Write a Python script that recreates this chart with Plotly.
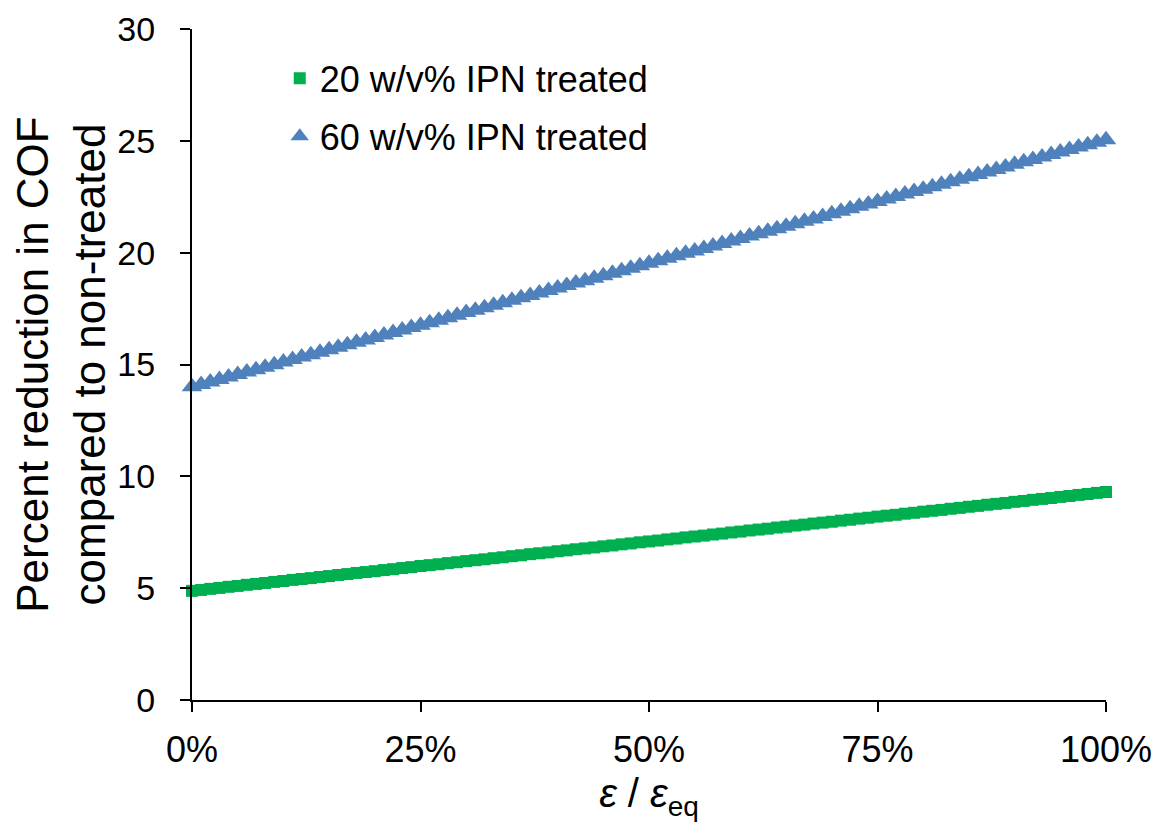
import plotly.graph_objects as go

# strain ratio (fraction of equilibrium strain)
x_frac = [0.00, 0.01, 0.02, 0.03, 0.04, 0.05, 0.06, 0.07, 0.08, 0.09,
          0.10, 0.11, 0.12, 0.13, 0.14, 0.15, 0.16, 0.17, 0.18, 0.19,
          0.20, 0.21, 0.22, 0.23, 0.24, 0.25, 0.26, 0.27, 0.28, 0.29,
          0.30, 0.31, 0.32, 0.33, 0.34, 0.35, 0.36, 0.37, 0.38, 0.39,
          0.40, 0.41, 0.42, 0.43, 0.44, 0.45, 0.46, 0.47, 0.48, 0.49,
          0.50, 0.51, 0.52, 0.53, 0.54, 0.55, 0.56, 0.57, 0.58, 0.59,
          0.60, 0.61, 0.62, 0.63, 0.64, 0.65, 0.66, 0.67, 0.68, 0.69,
          0.70, 0.71, 0.72, 0.73, 0.74, 0.75, 0.76, 0.77, 0.78, 0.79,
          0.80, 0.81, 0.82, 0.83, 0.84, 0.85, 0.86, 0.87, 0.88, 0.89,
          0.90, 0.91, 0.92, 0.93, 0.94, 0.95, 0.96, 0.97, 0.98, 0.99,
          1.00]

ipn20 = [4.88, 4.92, 4.97, 5.01, 5.06, 5.10, 5.15, 5.19, 5.23, 5.28,
         5.32, 5.37, 5.41, 5.45, 5.50, 5.54, 5.59, 5.63, 5.68, 5.72,
         5.76, 5.81, 5.85, 5.90, 5.94, 5.99, 6.03, 6.07, 6.12, 6.16,
         6.21, 6.25, 6.29, 6.34, 6.38, 6.43, 6.47, 6.52, 6.56, 6.60,
         6.65, 6.69, 6.74, 6.78, 6.82, 6.87, 6.91, 6.96, 7.00, 7.05,
         7.09, 7.13, 7.18, 7.22, 7.27, 7.31, 7.35, 7.40, 7.44, 7.49,
         7.53, 7.58, 7.62, 7.66, 7.71, 7.75, 7.80, 7.84, 7.89, 7.93,
         7.97, 8.02, 8.06, 8.11, 8.15, 8.20, 8.24, 8.28, 8.33, 8.37,
         8.42, 8.46, 8.50, 8.55, 8.59, 8.64, 8.68, 8.73, 8.77, 8.81,
         8.86, 8.90, 8.95, 8.99, 9.03, 9.08, 9.12, 9.17, 9.21, 9.26,
         9.30]

ipn60 = [14.00, 14.11, 14.22, 14.33, 14.44, 14.55, 14.66, 14.77, 14.88, 14.99,
         15.11, 15.22, 15.33, 15.44, 15.55, 15.66, 15.77, 15.88, 15.99, 16.10,
         16.21, 16.32, 16.43, 16.54, 16.65, 16.76, 16.87, 16.98, 17.09, 17.20,
         17.32, 17.43, 17.54, 17.65, 17.76, 17.87, 17.98, 18.09, 18.20, 18.31,
         18.42, 18.53, 18.64, 18.75, 18.86, 18.97, 19.08, 19.19, 19.30, 19.41,
         19.53, 19.64, 19.75, 19.86, 19.97, 20.08, 20.19, 20.30, 20.41, 20.52,
         20.63, 20.74, 20.85, 20.96, 21.07, 21.18, 21.29, 21.40, 21.51, 21.62,
         21.74, 21.85, 21.96, 22.07, 22.18, 22.29, 22.40, 22.51, 22.62, 22.73,
         22.84, 22.95, 23.06, 23.17, 23.28, 23.39, 23.50, 23.61, 23.72, 23.83,
         23.95, 24.06, 24.17, 24.28, 24.39, 24.50, 24.61, 24.72, 24.83, 24.94,
         25.05]

series_names = ["20 w/v% IPN treated", "60 w/v% IPN treated"]
y_ticks = [0, 5, 10, 15, 20, 25, 30]
x_ticks = [0, 0.25, 0.5, 0.75, 1.0]
x_tick_labels = ["0%", "25%", "50%", "75%", "100%"]

FONT = "Liberation Sans, Arial, sans-serif"

fig = go.Figure()
fig.add_trace(go.Scatter(
    x=x_frac, y=ipn20, mode="markers", name=series_names[0],
    legendgroup="a", cliponaxis=False,
    marker=dict(symbol="square", size=12, color="#00B050", line=dict(width=0)),
))
fig.add_trace(go.Scatter(
    x=x_frac, y=ipn60, mode="markers", name=series_names[1],
    legendgroup="b", cliponaxis=False,
    marker=dict(symbol="triangle-up", size=18, color="#4F81BD", line=dict(width=0)),
))

fig.update_layout(
    width=1158, height=829,
    margin=dict(l=184, r=60, t=21, b=137, autoexpand=False),
    paper_bgcolor="white", plot_bgcolor="white",
    font=dict(family=FONT, color="black", size=30),
    showlegend=True,
    legend=dict(
        x=0.096, y=0.971, xanchor="left", yanchor="top",
        bgcolor="rgba(0,0,0,0)", font=dict(size=36, family=FONT),
        tracegroupgap=8, traceorder="grouped",
    ),
    xaxis=dict(
        range=[0, 1], tickvals=x_ticks, ticktext=x_tick_labels,
        showline=True, linecolor="black", linewidth=2,
        ticks="outside", ticklen=10, tickwidth=2, tickcolor="black",
        showgrid=False, zeroline=False, automargin=False,
        tickfont=dict(size=36, family=FONT), ticklabelstandoff=7,
        title=dict(text="<i>ε</i> / <i>ε</i><sub>eq</sub>",
                   font=dict(size=40, family=FONT), standoff=10),
    ),
    yaxis=dict(
        range=[0, 30], tickvals=y_ticks,
        showline=True, linecolor="black", linewidth=2,
        ticks="outside", ticklen=10, tickwidth=2, tickcolor="black",
        showgrid=False, zeroline=False, automargin=False,
        tickfont=dict(size=34, family=FONT), ticklabelstandoff=18,
        title=dict(text="Percent reduction in COF<br>compared to non-treated",
                   font=dict(size=44, family=FONT), standoff=0),
    ),
)

fig.write_html("out.html")
